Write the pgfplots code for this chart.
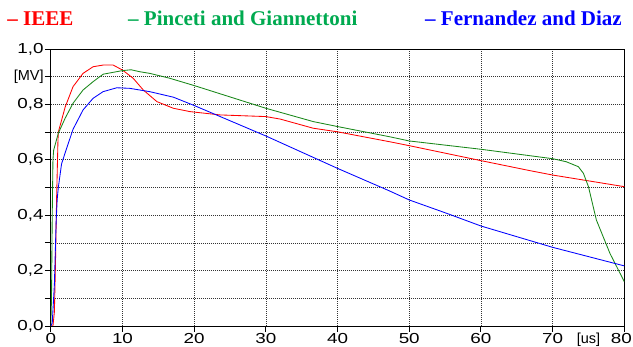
\documentclass[border=0pt]{standalone}
\usepackage{fontspec}
\setmainfont{Liberation Serif}
\newfontfamily\tickfont{Liberation Sans}[FakeStretch=1.3]
\newfontfamily\unitfont{Liberation Sans}
\usepackage{pgfplots}
\pgfplotsset{compat=1.18}
\definecolor{cred}{RGB}{255,0,0}
\definecolor{cgreen}{RGB}{25,135,25}
\definecolor{cblue}{RGB}{0,0,255}
\definecolor{tgreen}{RGB}{0,170,80}
\begin{document}
\begin{tikzpicture}
\begin{axis}[
  at={(0,0)}, anchor=south west,
  scale only axis, width=573.5pt, height=277pt,
  xmin=0, xmax=80, ymin=0, ymax=1,
  xtick={0,10,20,30,40,50,60,70,80},
  xticklabels={0,10,20,30,40,50,60,70,{\kern-6pt 80}},
  ytick={0,0.1,0.2,0.3,0.4,0.5,0.6,0.7,0.8,0.9,1},
  yticklabels={{0,0},{},{0,2},{},{0,4},{},{0,6},{},{0,8},{\unitfont[MV]},{1,0}},
  extra x ticks={75},
  extra x tick labels={\unitfont[us]},
  extra x tick style={grid=none, tick style={draw=none}},
  tick align=outside, major tick length=6pt,
  xtick pos=bottom, ytick pos=left,
  ticklabel style={font=\tickfont\fontsize{14.5}{15}\selectfont, text=black},
  yticklabel style={inner sep=1pt},
  xticklabel style={inner sep=1pt},
  grid=major,
  major grid style={black!80, line width=0.6pt, dash pattern=on 0.9pt off 1.1pt},
  axis line style={black, line width=0.9pt},
  tick style={black, line width=0.9pt},
  every axis plot/.append style={line width=0.85pt, line join=round},
]
\addplot[cred] coordinates {
(0,0) (0.3,0) (0.5,0.05) (0.65,0.22) (0.8,0.45) (1.0,0.67) (1.05,0.70) (2.0,0.79) (3.1,0.864) (4.5,0.912) (5.9,0.936) (7.3,0.942) (8.7,0.942) (10,0.924) (11.5,0.894) (12.9,0.852) (14.8,0.81) (17.1,0.786) (19.4,0.774) (23.6,0.762) (30,0.756) (32,0.747) (36.6,0.714) (40,0.701) (47.3,0.665) (50,0.651) (60,0.597) (66.8,0.561) (70,0.545) (80,0.503)
};
\addplot[cgreen] coordinates {
(0,0) (0.1,0.1) (0.2,0.4) (0.3,0.6) (0.4,0.635) (1.05,0.696) (2,0.75) (3.1,0.804) (4.5,0.852) (5.9,0.882) (7.3,0.909) (10,0.922) (11.2,0.925) (12.4,0.918) (13.8,0.912) (16.5,0.895) (20,0.868) (30,0.786) (36.6,0.738) (40,0.72) (47.3,0.683) (50,0.668) (60,0.638) (70,0.604) (71.9,0.593) (73.6,0.575) (74.3,0.551) (75,0.503) (76.1,0.383) (78,0.262) (80,0.16)
};
\addplot[cblue] coordinates {
(0,0) (0.2,0.01) (0.5,0.15) (0.75,0.38) (0.9,0.46) (1.05,0.50) (1.5,0.585) (2,0.625) (3.1,0.71) (4.5,0.78) (5.9,0.822) (7.3,0.846) (9.2,0.86) (11,0.858) (13.8,0.846) (17.1,0.826) (20,0.796) (30,0.686) (40,0.569) (47.3,0.487) (50,0.455) (55.2,0.407) (60,0.361) (70,0.284) (80,0.217)
};
\end{axis}
\node[anchor=base west, inner sep=0, text=cred, font=\bfseries\fontsize{21}{21}\selectfont] at (-43.5pt,300pt) {– IEEE};
\node[anchor=base west, inner sep=0, text=tgreen, font=\bfseries\fontsize{21}{21}\selectfont] at (77.2pt,300pt) {– Pinceti and Giannettoni};
\node[anchor=base west, inner sep=0, text=cblue, font=\bfseries\fontsize{21}{21}\selectfont] at (374.2pt,300pt) {– Fernandez and Diaz};
\pgfresetboundingbox
\useasboundingbox (-50.8pt,-21pt) rectangle (582.2pt,326pt);
\end{tikzpicture}
\end{document}
